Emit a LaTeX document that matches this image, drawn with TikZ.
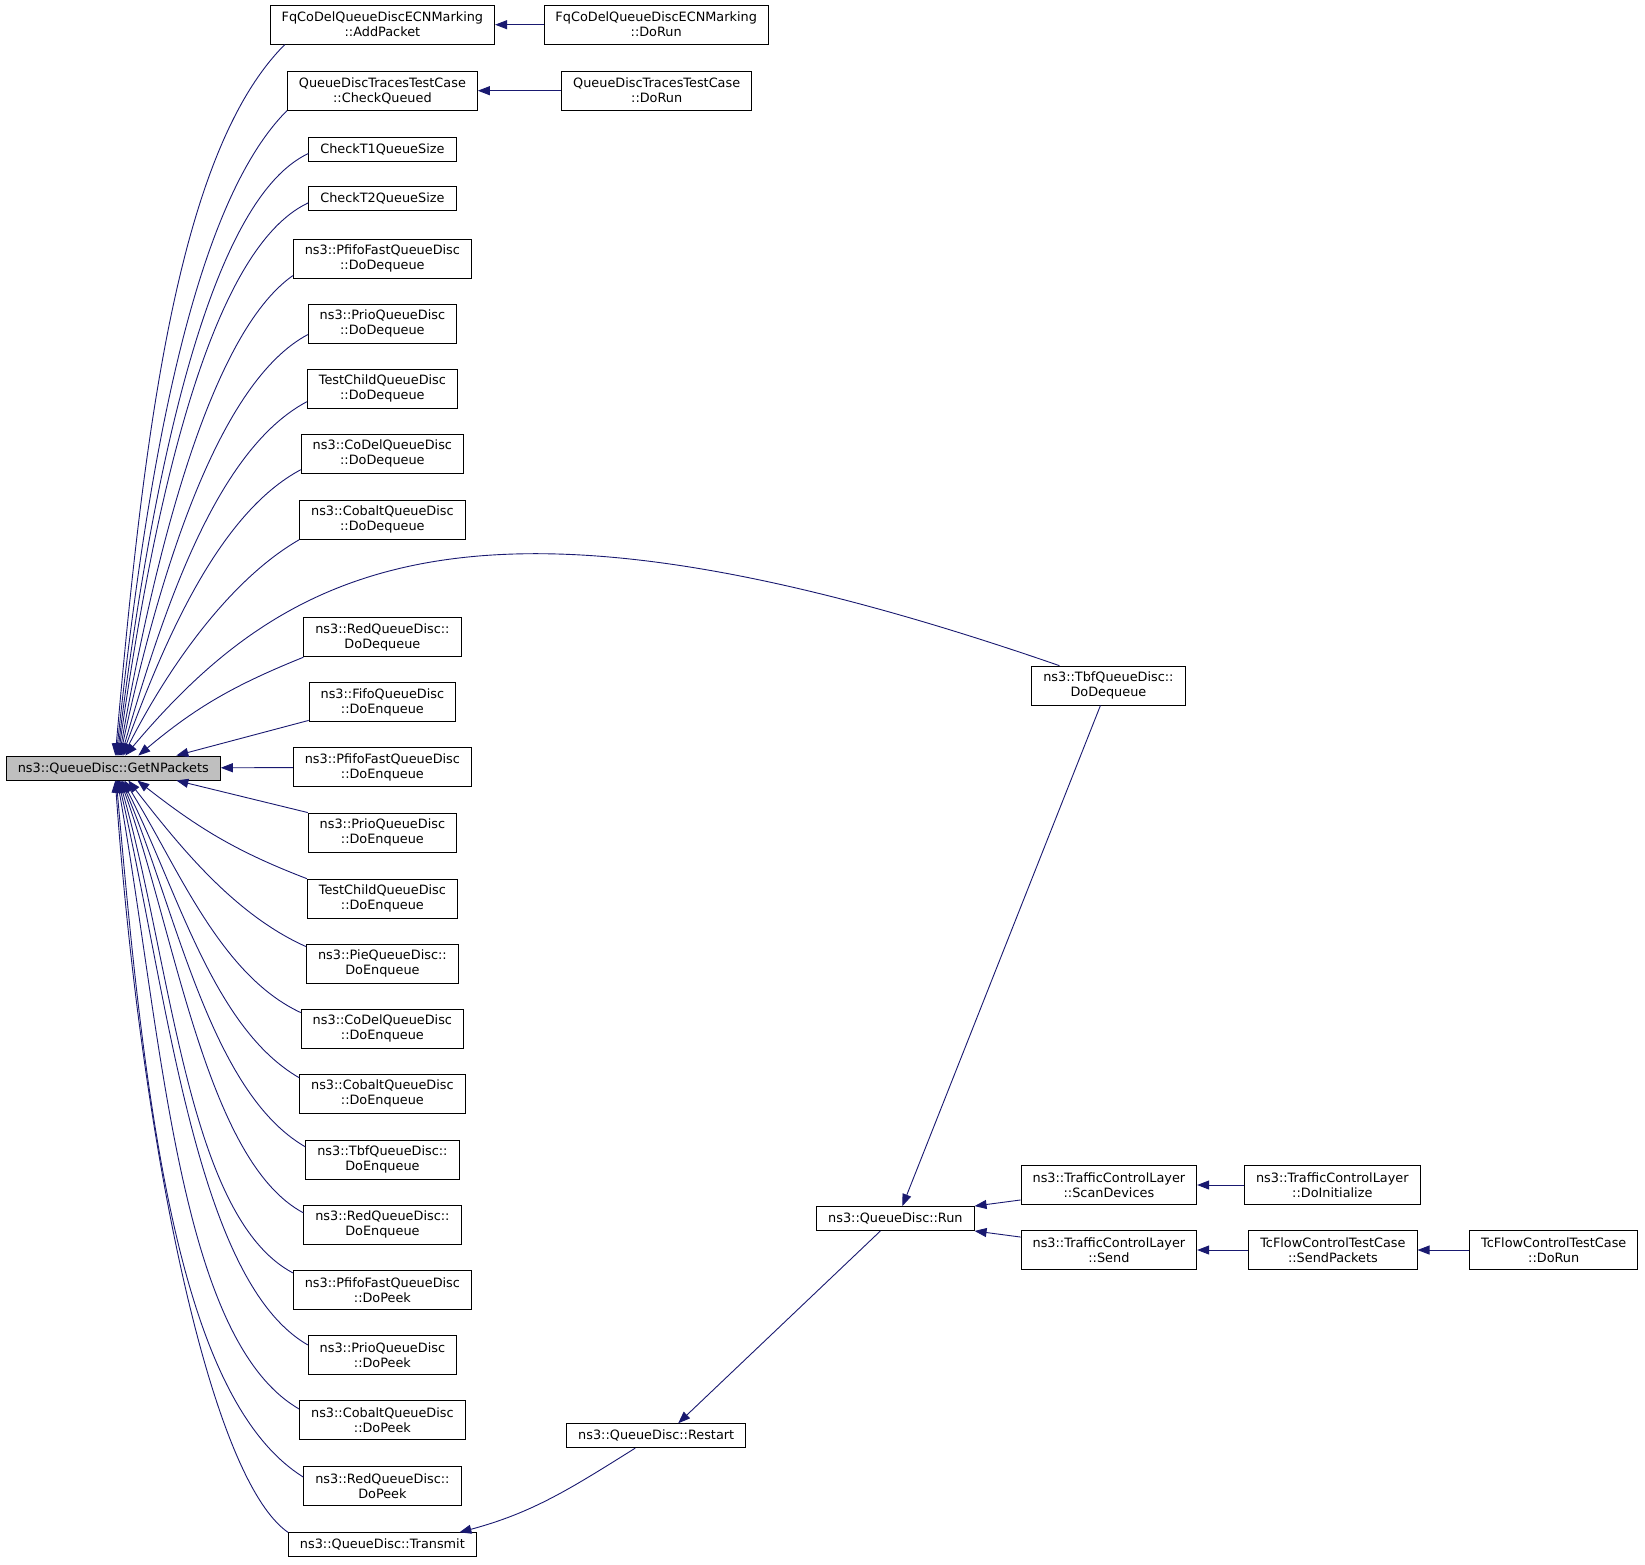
\documentclass[tikz,border=0pt]{standalone}
\usepackage{fontspec}
\setmainfont{DejaVu Sans}
\usetikzlibrary{arrows.meta}
\definecolor{edgeblue}{HTML}{191970}
\definecolor{fngray}{HTML}{BFBFBF}

\begin{document}
\begin{tikzpicture}[x=1pt, y=1pt,
  every node/.style = {shape=rectangle, draw, line width=0.9pt, align=center,
    font=\fontsize{12.85}{15}\selectfont, inner xsep=11.5pt, inner ysep=0pt,
    minimum height=24pt},
  two/.style = {minimum height=39pt},
  call/.style = {{Triangle[length=12pt,width=9pt]}-, color=edgeblue, line width=0.9pt}]
  \useasboundingbox (0,0) rectangle (1645,-1564);

  \node[fill=fngray] (getn) at (113.3,-768) {ns3::QueueDisc::GetNPackets};

  \node[two] (addpkt) at (382.4,-24.7) {FqCoDelQueueDiscECNMarking\\::AddPacket};
  \node[two] (chkq) at (382.4,-90.7) {QueueDiscTracesTestCase\\::CheckQueued};
  \node (chkt1) at (382.4,-149.5) {CheckT1QueueSize};
  \node (chkt2) at (382.4,-198.8) {CheckT2QueueSize};
  \node[two] (pfdeq) at (382.4,-258.6) {ns3::PfifoFastQueueDisc\\::DoDequeue};
  \node[two] (priodeq) at (382.4,-323.6) {ns3::PrioQueueDisc\\::DoDequeue};
  \node[two] (tcdeq) at (382.4,-388.7) {TestChildQueueDisc\\::DoDequeue};
  \node[two] (codeldeq) at (382.4,-453.7) {ns3::CoDelQueueDisc\\::DoDequeue};
  \node[two] (cobaltdeq) at (382.4,-519.8) {ns3::CobaltQueueDisc\\::DoDequeue};
  \node[two] (reddeq) at (382.4,-637.3) {ns3::RedQueueDisc::\\DoDequeue};
  \node[two] (fifoenq) at (382.4,-702.4) {ns3::FifoQueueDisc\\::DoEnqueue};
  \node[two] (pfenq) at (382.4,-767.4) {ns3::PfifoFastQueueDisc\\::DoEnqueue};
  \node[two] (prioenq) at (382.4,-832.5) {ns3::PrioQueueDisc\\::DoEnqueue};
  \node[two] (tcenq) at (382.4,-898.6) {TestChildQueueDisc\\::DoEnqueue};
  \node[two] (pieenq) at (382.4,-963.6) {ns3::PieQueueDisc::\\DoEnqueue};
  \node[two] (codelenq) at (382.4,-1028.6) {ns3::CoDelQueueDisc\\::DoEnqueue};
  \node[two] (cobaltenq) at (382.4,-1093.7) {ns3::CobaltQueueDisc\\::DoEnqueue};
  \node[two] (tbfenq) at (382.4,-1159.8) {ns3::TbfQueueDisc::\\DoEnqueue};
  \node[two] (redenq) at (382.4,-1224.8) {ns3::RedQueueDisc::\\DoEnqueue};
  \node[two] (pfpeek) at (382.4,-1289.9) {ns3::PfifoFastQueueDisc\\::DoPeek};
  \node[two] (priopeek) at (382.4,-1354.9) {ns3::PrioQueueDisc\\::DoPeek};
  \node[two] (cobaltpeek) at (382.4,-1420) {ns3::CobaltQueueDisc\\::DoPeek};
  \node[two] (redpeek) at (382.4,-1486.1) {ns3::RedQueueDisc::\\DoPeek};
  \node (transmit) at (382.4,-1544.8) {ns3::QueueDisc::Transmit};

  \node[two] (fqrun) at (656.2,-24.7) {FqCoDelQueueDiscECNMarking\\::DoRun};
  \node[two] (tracesrun) at (656.7,-90.7) {QueueDiscTracesTestCase\\::DoRun};
  \node (restart) at (656.2,-1435.7) {ns3::QueueDisc::Restart};
  \node (run) at (895.4,-1218.5) {ns3::QueueDisc::Run};
  \node[two] (tbfdeq) at (1108.4,-685.6) {ns3::TbfQueueDisc::\\DoDequeue};
  \node[two] (scan) at (1108.9,-1185) {ns3::TrafficControlLayer\\::ScanDevices};
  \node[two] (send) at (1108.9,-1250) {ns3::TrafficControlLayer\\::Send};
  \node[two] (doinit) at (1332.3,-1185) {ns3::TrafficControlLayer\\::DoInitialize};
  \node[two] (sendpkts) at (1332.9,-1250) {TcFlowControlTestCase\\::SendPackets};
  \node[two] (tcrun) at (1553.7,-1250) {TcFlowControlTestCase\\::DoRun};

  \draw[call] ([xshift=2pt]getn.north) to[out=85,in=225,out distance=330pt,in distance=150pt] ([xshift=15pt]addpkt.south west);
  \draw[call] ([xshift=3pt]getn.north) to[out=84,in=225,out distance=300pt,in distance=130pt] (chkq.south west);
  \draw[call] ([xshift=4pt]getn.north) to[out=83,in=205,out distance=280pt,in distance=110pt] ([yshift=-4pt]chkt1.west);
  \draw[call] ([xshift=5pt]getn.north) to[out=82,in=205,out distance=250pt,in distance=110pt] ([yshift=-4pt]chkt2.west);
  \draw[call] ([xshift=6pt]getn.north) to[out=80,in=215,out distance=210pt,in distance=100pt] ([yshift=-17pt]pfdeq.west);
  \draw[call] ([xshift=7pt]getn.north) to[out=78,in=208,out distance=190pt,in distance=100pt] ([yshift=-11pt]priodeq.west);
  \draw[call] ([xshift=8pt]getn.north) to[out=74,in=208,out distance=160pt,in distance=100pt] ([yshift=-13pt]tcdeq.west);
  \draw[call] ([xshift=9pt]getn.north) to[out=70,in=208,out distance=130pt,in distance=90pt] ([yshift=-16pt]codeldeq.west);
  \draw[call] ([xshift=10pt]getn.north) to[out=63,in=210,out distance=100pt,in distance=80pt] (cobaltdeq.south west);
  \draw[call] ([xshift=12pt]getn.north) .. controls (290,-560) and (480,-465) .. ([xshift=-49pt]tbfdeq.north);
  \draw[call] ([xshift=25pt]getn.north) to[out=40,in=202] (reddeq.south west);
  \draw[call] ([xshift=63pt]getn.north) -- ([yshift=-18pt]fifoenq.west);
  \draw[call] (getn) -- (pfenq);
  \draw[call] ([xshift=63pt]getn.south) -- (prioenq.north west);
  \draw[call] ([xshift=24pt]getn.south) to[out=-38,in=159] (tcenq.north west);
  \draw[call] ([xshift=15pt]getn.south) to[out=-52,in=156,out distance=80pt,in distance=80pt] ([yshift=17pt]pieenq.west);
  \draw[call] ([xshift=11pt]getn.south) to[out=-58,in=155,out distance=100pt,in distance=90pt] ([yshift=16pt]codelenq.west);
  \draw[call] ([xshift=9pt]getn.south) to[out=-63,in=150,out distance=120pt,in distance=100pt] ([yshift=16pt]cobaltenq.west);
  \draw[call] ([xshift=8pt]getn.south) to[out=-67,in=150,out distance=140pt,in distance=110pt] ([yshift=13pt]tbfenq.west);
  \draw[call] ([xshift=7pt]getn.south) to[out=-70,in=152,out distance=160pt,in distance=110pt] ([yshift=12pt]redenq.west);
  \draw[call] ([xshift=6pt]getn.south) to[out=-74,in=152,out distance=190pt,in distance=120pt] ([yshift=17pt]pfpeek.west);
  \draw[call] ([xshift=5pt]getn.south) to[out=-77,in=150,out distance=220pt,in distance=130pt] ([yshift=10pt]priopeek.west);
  \draw[call] ([xshift=4pt]getn.south) to[out=-80,in=150,out distance=260pt,in distance=140pt] ([yshift=11pt]cobaltpeek.west);
  \draw[call] ([xshift=3pt]getn.south) to[out=-85,in=148,out distance=320pt,in distance=150pt] ([yshift=9pt]redpeek.west);
  \draw[call] ([xshift=2pt]getn.south) to[out=-86,in=145,out distance=340pt,in distance=100pt] (transmit.north west);

  \draw[call] (addpkt) -- (fqrun);
  \draw[call] (chkq) -- (tracesrun);
  \draw[call] ([xshift=7pt]run.north) -- ([xshift=-8pt]tbfdeq.south);
  \draw[call] ([xshift=22pt]restart.north) -- ([xshift=-15pt]run.south);
  \draw[call] ([xshift=77pt]transmit.north) to[out=15,in=212] ([xshift=-21pt]restart.south);
  \draw[call] (run.north east) -- ([yshift=5pt]scan.south west);
  \draw[call] (run.south east) -- ([yshift=-7pt]send.north west);
  \draw[call] (scan) -- (doinit);
  \draw[call] (send) -- (sendpkts);
  \draw[call] (sendpkts) -- (tcrun);
\end{tikzpicture}
\end{document}
